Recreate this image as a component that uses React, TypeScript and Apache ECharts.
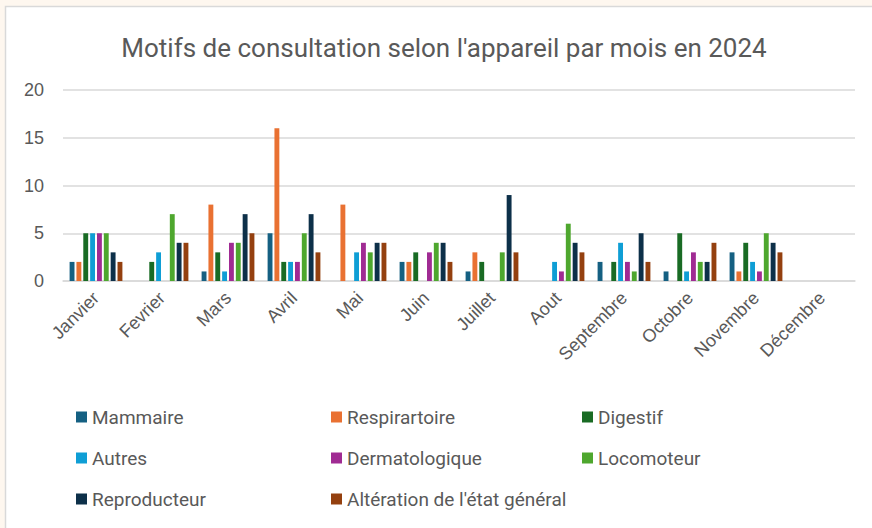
import React, { useEffect, useRef } from "react";
import * as echarts from "echarts";

const months = ["Janvier", "Fevrier", "Mars", "Avril", "Mai", "Juin", "Juillet", "Aout", "Septembre", "Octobre", "Novembre", "Décembre"];
const seriesNames = ["Mammaire", "Respirartoire", "Digestif", "Autres", "Dermatologique", "Locomoteur", "Reproducteur", "Altération de l'état général"];
const mammaire = [2, 0, 1, 5, 0, 2, 1, 0, 2, 1, 3, 0];
const respirartoire = [2, 0, 8, 16, 8, 2, 3, 0, 0, 0, 1, 0];
const digestif = [5, 2, 3, 2, 0, 3, 2, 0, 2, 5, 4, 0];
const autres = [5, 3, 1, 2, 3, 0, 0, 2, 4, 1, 2, 0];
const dermatologique = [5, 0, 4, 2, 4, 3, 0, 1, 2, 3, 1, 0];
const locomoteur = [5, 7, 4, 5, 3, 4, 3, 6, 1, 2, 5, 0];
const reproducteur = [3, 4, 7, 7, 4, 4, 9, 4, 5, 2, 4, 0];
const alteration = [2, 4, 5, 3, 4, 2, 3, 3, 2, 4, 3, 0];
const yTicks = [0, 5, 10, 15, 20];

const values = [mammaire, respirartoire, digestif, autres, dermatologique, locomoteur, reproducteur, alteration];
const colors = ["#156082", "#E97132", "#196B24", "#0F9ED5", "#A02B93", "#4EA72E", "#0D3049", "#94400F"];

const FONT = "'Roboto', sans-serif";
const NUMFONT = "'Liberation Sans', Arial, sans-serif";

export default function App() {
  const ref = useRef<HTMLDivElement>(null);
  useEffect(() => {
    if (!ref.current) return;
    const chart = echarts.init(ref.current, undefined, { renderer: "svg" });
    const legendCommon = {
      orient: "vertical" as const,
      top: 401,
      icon: "rect",
      itemWidth: 11,
      itemHeight: 11,
      itemGap: 19,
      textStyle: { color: "#595959", fontSize: 19, fontFamily: FONT, lineHeight: 22 },
      selectedMode: false,
    };
    chart.setOption({
      animation: false,
      backgroundColor: "#FEF7EF",
      color: colors,
      graphic: [
        {
          type: "rect",
          z: -100,
          silent: true,
          shape: { x: 5.5, y: 6.5, width: 900, height: 560 },
          style: { fill: "#ffffff", stroke: "#D9D9D9", lineWidth: 1.5 },
        },
      ],
      title: {
        text: "Motifs de consultation selon l'appareil par mois en 2024",
        left: 439,
        textAlign: "center",
        top: 30,
        textStyle: { color: "#595959", fontSize: 26, fontWeight: "normal", fontFamily: FONT },
      },
      legend: [
        { ...legendCommon, left: 71, data: [seriesNames[0], seriesNames[3], seriesNames[6]] },
        { ...legendCommon, left: 326, data: [seriesNames[1], seriesNames[4], seriesNames[7]] },
        { ...legendCommon, left: 577, data: [seriesNames[2], seriesNames[5]] },
      ],
      grid: { left: 63, right: 17, top: 90, bottom: 247, containLabel: false },
      xAxis: {
        type: "category",
        data: months,
        axisTick: { show: false },
        axisLine: { lineStyle: { color: "#D9D9D9", width: 1.5 } },
        axisLabel: { rotate: 45, margin: 14, color: "#595959", fontSize: 18, fontFamily: NUMFONT, interval: 0 },
      },
      yAxis: {
        type: "value",
        min: yTicks[0],
        max: yTicks[yTicks.length - 1],
        interval: 5,
        axisLabel: { color: "#595959", fontSize: 18, margin: 19, fontFamily: NUMFONT },
        splitLine: { lineStyle: { color: "#D9D9D9", width: 1.5 } },
        axisLine: { show: false },
        axisTick: { show: false },
      },
      series: seriesNames.map((name, i) => ({
        name,
        type: "bar",
        data: values[i],
        barCategoryGap: "20%",
        barGap: "40%",
        itemStyle: { color: colors[i] },
      })),
    });
    return () => chart.dispose();
  }, []);
  return (
    <div style={{ position: "fixed", left: 0, top: 0, width: 872, height: 528 }}>
      <div ref={ref} style={{ width: 872, height: 528 }} />
    </div>
  );
}
